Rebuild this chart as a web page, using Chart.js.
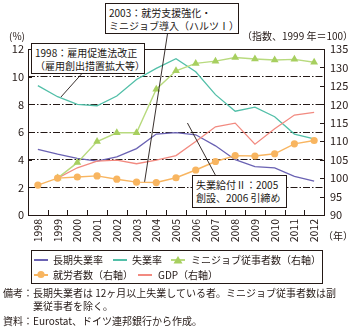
<!DOCTYPE html>
<html>
<head>
<meta charset="utf-8">
<script src="https://cdn.jsdelivr.net/npm/chart.js@4/dist/chart.umd.min.js"></script>
<style>
  body { margin: 0; background: #fff; }
  #wrap { position: relative; width: 356px; height: 331px; font-family: "Noto Sans CJK JP", sans-serif; color: #231815; }
  #wrap canvas { position: absolute; left: 0; top: 0; }
  .t { position: absolute; font-size: 10px; line-height: 13px; white-space: nowrap; }
  .box { position: absolute; background: #fff; border: 1px solid #231815; font-size: 10px; line-height: 13px; white-space: nowrap; padding: 2px 3px; box-sizing: border-box; }
  #legend { position: absolute; left: 31px; top: 250px; width: 292px; height: 34px; border: 1px solid #231815; box-sizing: border-box; }
  .lg { position: absolute; font-size: 10px; line-height: 12px; white-space: nowrap; }
  .sw { position: absolute; height: 1.5px; width: 14px; }
</style>
</head>
<body>
<div id="wrap">
  <canvas id="chart" width="356" height="331"></canvas>

  <div class="t" style="left:9px;top:29px;">(%)</div>
  <div class="t" style="left:242px;top:29px;">（指数、1999 年＝100）</div>
  <div class="t" style="left:323px;top:229px;">（年）</div>

  <div class="box" style="left:31px;top:43px;width:114px;height:31px;">1998：雇用促進法改正<br>（雇用創出措置拡大等）</div>
  <div class="box" style="left:105px;top:3px;width:134px;height:31px;">2003：就労支援強化・<br>ミニジョブ導入（ハルツⅠ）</div>
  <div class="box" style="left:192px;top:175px;width:95px;height:33px;">失業給付Ⅱ：2005<br>創設、2006 引締め</div>

  <div id="legend">
    <div class="sw" style="left:2px;top:8px;background:#6a62b3;"></div>
    <div class="lg" style="left:21px;top:3px;">長期失業率</div>
    <div class="sw" style="left:81px;top:8px;background:#52bfa8;"></div>
    <div class="lg" style="left:100px;top:3px;">失業率</div>
    <div class="sw" style="left:139px;top:8px;background:#b8da7e;"></div>
    <div class="lg" style="left:159px;top:3px;">ミニジョブ従事者数（右軸）</div>
    <div class="sw" style="left:2px;top:23px;background:#f8b560;"></div>
    <div class="lg" style="left:21px;top:18px;">就労者数（右軸）</div>
    <div class="sw" style="left:106px;top:23px;background:#f28a80;"></div>
    <div class="lg" style="left:126px;top:18px;">GDP（右軸）</div>
    <canvas id="lgmarks" width="290" height="32" style="left:0;top:0;"></canvas>
  </div>

  <div class="t" style="left:3px;top:286px;">備考：長期失業者は 12ヶ月以上失業している者。ミニジョブ従事者数は副</div>
  <div class="t" style="left:33px;top:299px;">業従事者を除く。</div>
  <div class="t" style="left:3px;top:314px;">資料：Eurostat、ドイツ連邦銀行から作成。</div>
</div>

<script>
// 年
const years = ['1998','1999','2000','2001','2002','2003','2004','2005','2006','2007','2008','2009','2010','2011','2012'];

// 左軸 (%)
const longTermRate = [4.75, 4.4, 4.1, 3.9, 4.2, 4.8, 5.85, 5.95, 5.8, 5.0, 4.0, 3.5, 3.4, 2.8, 2.45];
const unemploymentRate = [9.35, 8.55, 8.0, 7.9, 8.6, 9.8, 10.6, 11.3, 10.35, 8.7, 7.5, 7.8, 7.1, 5.85, 5.5];

// 右軸 (1999年=100)
const miniJobs = [null, 100, 104.2, 109.9, 112.3, 112.3, 124.1, 129.1, 131.1, 131.7, 132.7, 132.3, 132.0, 132.2, 131.4];
const employed = [98.1, 100, 100.3, 100.6, 99.7, 98.9, 98.8, 100.1, 102.2, 104.5, 106.1, 106.0, 106.6, 109.3, 110.2];
const gdp = [null, 100, 102.8, 104.6, 104.9, 103.9, 104.9, 106.1, 109.9, 113.9, 114.9, 109.2, 113.4, 117.1, 117.8];

const leftTicks = { min: 0, max: 12, step: 2 };
const rightTicks = { min: 90, max: 135, step: 5 };

const ink = '#231815';

// 枠・内向き目盛り・引き出し線
const framePlugin = {
  id: 'frame',
  afterDraw(chart) {
    const { ctx, chartArea: a, scales } = chart;
    const x = scales.x, y = scales.y, y1 = scales.y1;
    ctx.save();
    ctx.strokeStyle = ink;
    ctx.lineWidth = 1;
    ctx.strokeRect(a.left + 0.5, a.top + 0.5, a.right - a.left, a.bottom - a.top);

    ctx.beginPath();
    const n = years.length;
    for (let i = 1; i < n; i++) {
      const px = Math.round(x.getPixelForValue(i - 0.5)) + 0.5;
      ctx.moveTo(px, a.bottom);
      ctx.lineTo(px, a.bottom - 5);
    }
    y.ticks.forEach(t => {
      const py = Math.round(y.getPixelForValue(t.value)) + 0.5;
      ctx.moveTo(a.left, py);
      ctx.lineTo(a.left + 4, py);
    });
    y1.ticks.forEach(t => {
      const py = Math.round(y1.getPixelForValue(t.value)) + 0.5;
      ctx.moveTo(a.right, py);
      ctx.lineTo(a.right - 4, py);
    });
    ctx.stroke();

    // 引き出し線
    const leaders = [
      [2.28, 10.3, 1.17, 8.53],
      [6.57, 13.1, 5.41, 2.4],
      [7.58, 6.65, 8.99, 2.9]
    ];
    ctx.lineWidth = 0.9;
    ctx.beginPath();
    leaders.forEach(l => {
      ctx.moveTo(x.getPixelForValue(l[0]), y.getPixelForValue(l[1]));
      ctx.lineTo(x.getPixelForValue(l[2]), y.getPixelForValue(l[3]));
    });
    ctx.stroke();
    ctx.restore();
  }
};

const tickFont = { family: 'Noto Sans CJK JP', size: 11 };

new Chart(document.getElementById('chart'), {
  type: 'line',
  data: {
    labels: years,
    datasets: [
      { label: '就労者数（右軸）', data: employed, yAxisID: 'y1', borderColor: '#f8b560', backgroundColor: '#f8b560', borderWidth: 1.4, pointRadius: 3.6, pointStyle: 'circle', pointBorderWidth: 0, tension: 0 },
      { label: 'ミニジョブ従事者数（右軸）', data: miniJobs, yAxisID: 'y1', borderColor: '#b8da7e', backgroundColor: '#a7cf5f', pointBorderColor: '#a7cf5f', borderWidth: 1.4, pointRadius: 4.5, pointStyle: 'triangle', pointBorderWidth: 0, tension: 0 },
      { label: 'GDP（右軸）', data: gdp, yAxisID: 'y1', borderColor: '#f28a80', borderWidth: 1.3, pointRadius: 0, tension: 0 },
      { label: '失業率', data: unemploymentRate, yAxisID: 'y', borderColor: '#52bfa8', borderWidth: 1.3, pointRadius: 0, tension: 0 },
      { label: '長期失業率', data: longTermRate, yAxisID: 'y', borderColor: '#6a62b3', borderWidth: 1.3, pointRadius: 0, tension: 0 }
    ]
  },
  options: {
    responsive: false,
    animation: false,
    layout: { padding: { top: 49, left: 0, right: 0, bottom: 0 } },
    plugins: { legend: { display: false }, tooltip: { enabled: false } },
    scales: {
      x: {
        offset: true,
        grid: { display: false, drawTicks: false },
        border: { display: false },
        ticks: { color: ink, font: { family: 'Noto Sans CJK JP', size: 10.5 }, minRotation: 90, maxRotation: 90, padding: 4, autoSkip: false },
        afterFit(s) { s.height = 116; }
      },
      y: {
        position: 'left',
        min: leftTicks.min, max: leftTicks.max,
        grid: {
          drawTicks: false,
          lineWidth: 1,
          color: c => (c.tick && (c.tick.value === leftTicks.min || c.tick.value === leftTicks.max)) ? 'rgba(0,0,0,0)' : ink
        },
        border: { display: false, dash: [7, 2, 1.5, 2] },
        ticks: { stepSize: leftTicks.step, color: ink, font: tickFont, padding: 4 },
        afterFit(s) { s.width = 28; }
      },
      y1: {
        position: 'right',
        min: rightTicks.min, max: rightTicks.max,
        grid: { display: false, drawTicks: false },
        border: { display: false },
        ticks: { stepSize: rightTicks.step, color: ink, font: tickFont, padding: 6 },
        afterFit(s) { s.width = 32; }
      }
    }
  },
  plugins: [framePlugin]
});

// 凡例マーカー
const lg = document.getElementById('lgmarks').getContext('2d');
lg.fillStyle = '#a7cf5f';
lg.beginPath();
lg.moveTo(146, 5); lg.lineTo(150.5, 12.5); lg.lineTo(141.5, 12.5); lg.closePath();
lg.fill();
lg.fillStyle = '#f8b560';
lg.beginPath();
lg.arc(9, 23.5, 3.6, 0, Math.PI * 2);
lg.fill();
</script>
</body>
</html>
